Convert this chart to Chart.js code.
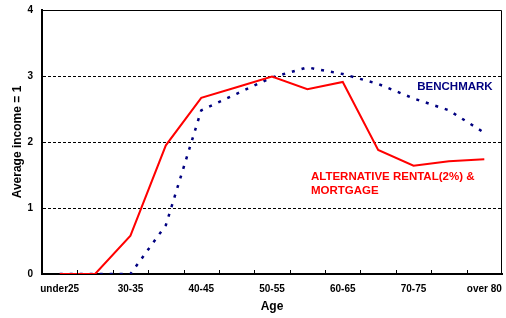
<!DOCTYPE html>
<html>
<head>
<meta charset="utf-8">
<script src="https://cdn.jsdelivr.net/npm/chart.js@4/dist/chart.umd.min.js"></script>
<style>
    html, body { margin: 0; padding: 0; background: #fff; }
    #chart-canvas { display: block; }
</style>
</head>
<body>
<canvas id="chart-canvas" width="506" height="318"></canvas>
<script>
    // Age groups (only every other one gets a label on the axis)
    const ageGroups = ['under25', '25-30', '30-35', '35-40', '40-45', '45-50', '50-55',
                       '55-60', '60-65', '65-70', '70-75', '75-80', 'over 80'];

    // Average income = 1
    const rentalMortgage = [0, 0, 0.58, 1.95, 2.67, 2.83, 2.99, 2.80, 2.91, 1.88, 1.64, 1.71, 1.74];
    const benchmark      = [0, 0, 0, 0.74, 2.48, 2.73, 2.98, 3.13, 3.03, 2.88, 2.66, 2.48, 2.14];

    const yTicks = [0, 1, 2, 3, 4];

    const fontFamily = '"Liberation Sans", Arial, sans-serif';

    // Frame, inner tick marks and the series labels
    const decorations = {
        id: 'decorations',
        afterDraw(chart) {
            const ctx = chart.ctx;
            const area = chart.chartArea;
            const x = chart.scales.x;
            const y = chart.scales.y;
            ctx.save();

            // thin top / right border
            ctx.strokeStyle = '#000';
            ctx.lineWidth = 1;
            ctx.beginPath();
            ctx.moveTo(area.left, area.top + 0.5);
            ctx.lineTo(area.right - 0.5, area.top + 0.5);
            ctx.lineTo(area.right - 0.5, area.bottom);
            ctx.stroke();

            // small ticks pointing into the plot at category boundaries
            const step = (area.right - area.left) / ageGroups.length;
            ctx.beginPath();
            for (let i = 1; i < ageGroups.length; i++) {
                const px = Math.round(area.left + i * step) + 0.5;
                ctx.moveTo(px, area.bottom);
                ctx.lineTo(px, area.bottom - 4);
            }
            ctx.stroke();

            // series labels
            ctx.font = 'bold 11.5px ' + fontFamily;
            ctx.textBaseline = 'middle';
            ctx.textAlign = 'center';
            ctx.fillStyle = '#000080';
            ctx.fillText('BENCHMARK', x.getPixelForValue(11.17), y.getPixelForValue(2.83));

            ctx.textAlign = 'left';
            ctx.fillStyle = '#ff0000';
            const lx = x.getPixelForValue(7.1);
            ctx.fillText('ALTERNATIVE RENTAL(2%) &', lx, y.getPixelForValue(1.47));
            ctx.fillText('MORTGAGE', lx, y.getPixelForValue(1.26));
            ctx.restore();
        }
    };

    const chartCanvas = document.getElementById('chart-canvas');
    window.resultChart = new Chart(chartCanvas, {
        type: 'line',
        data: {
            labels: ageGroups,
            datasets: [
                {
                    label: 'Alternative rental (2%) & mortgage',
                    data: rentalMortgage,
                    borderColor: '#ff0000',
                    borderWidth: 2,
                    pointRadius: 0,
                    tension: 0,
                    fill: false
                },
                {
                    label: 'Benchmark',
                    data: benchmark,
                    borderColor: '#000080',
                    borderWidth: 2.5,
                    borderDash: [3, 7],
                    pointRadius: 0,
                    tension: 0,
                    fill: false
                }
            ]
        },
        options: {
            responsive: false,
            animation: false,
            layout: { padding: { left: 0, right: 4, top: 10, bottom: 4 } },
            plugins: {
                legend: { display: false },
                tooltip: { enabled: false }
            },
            scales: {
                x: {
                    offset: true,
                    grid: { display: false, drawTicks: false },
                    border: { display: true, color: '#000', width: 2 },
                    ticks: {
                        autoSkip: false,
                        maxRotation: 0,
                        padding: 9,
                        color: '#000',
                        font: { family: fontFamily, size: 10, weight: 'bold' },
                        callback: function(value, index) {
                            return index % 2 === 0 ? ageGroups[index] : '';
                        }
                    },
                    title: {
                        display: true,
                        text: 'Age',
                        color: '#000',
                        padding: { top: 0, bottom: 0 },
                        font: { family: fontFamily, size: 12, weight: 'bold' }
                    },
                    afterFit: function(scale) {
                        scale.height = 40;
                        scale.paddingLeft = 0;
                        scale.paddingRight = 0;
                    }
                },
                y: {
                    min: 0,
                    max: 4,
                    afterBuildTicks: function(scale) {
                        scale.ticks = yTicks.map(v => ({ value: v }));
                    },
                    grid: {
                        drawTicks: false,
                        lineWidth: 1,
                        color: function(context) {
                            const v = context.tick ? context.tick.value : null;
                            return (v === 0 || v === 4) ? 'rgba(0,0,0,0)' : '#000';
                        }
                    },
                    border: { display: true, color: '#000', width: 2, dash: [3, 2] },
                    ticks: {
                        padding: 9,
                        color: '#000',
                        font: { family: fontFamily, size: 10, weight: 'bold' }
                    },
                    title: {
                        display: true,
                        text: 'Average income = 1',
                        color: '#000',
                        padding: { top: 10, bottom: 0 },
                        font: { family: fontFamily, size: 12, weight: 'bold' }
                    },
                    afterFit: function(scale) {
                        scale.width = 42;
                        scale.paddingTop = 0;
                        scale.paddingBottom = 0;
                    }
                }
            }
        },
        plugins: [decorations]
    });
</script>
</body>
</html>
